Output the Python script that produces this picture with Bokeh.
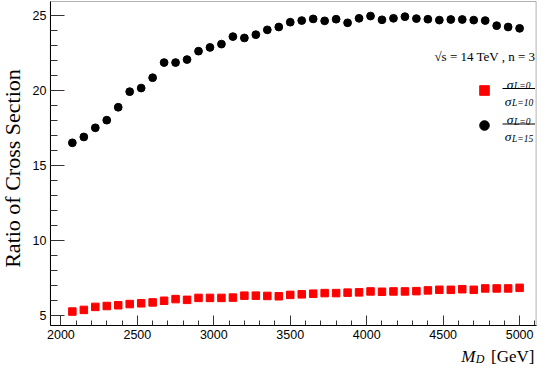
import math
from bokeh.plotting import figure
from bokeh.models import Range1d, SingleIntervalTicker, Label, Legend, LegendItem, BoxAnnotation
from bokeh.core.properties import value
from bokeh.embed import file_html
from bokeh.resources import INLINE

# ---- data ----
md_gev = [2075, 2150, 2225, 2300, 2375, 2450, 2525, 2600, 2675, 2750,
          2825, 2900, 2975, 3050, 3125, 3200, 3275, 3350, 3425, 3500,
          3575, 3650, 3725, 3800, 3875, 3950, 4025, 4100, 4175, 4250,
          4325, 4400, 4475, 4550, 4625, 4700, 4775, 4850, 4925, 5000]

ratio_l10 = [5.23, 5.34, 5.54, 5.60, 5.65, 5.73, 5.78, 5.84, 5.95, 6.06,
             6.01, 6.14, 6.14, 6.14, 6.16, 6.29, 6.29, 6.27, 6.25, 6.34,
             6.38, 6.42, 6.46, 6.46, 6.49, 6.51, 6.57, 6.55, 6.57, 6.57,
             6.59, 6.64, 6.68, 6.68, 6.72, 6.68, 6.77, 6.77, 6.77, 6.81]

ratio_l15 = [16.48, 16.87, 17.48, 17.99, 18.85, 19.89, 20.13, 20.82, 21.83, 21.83,
             22.03, 22.59, 22.84, 23.06, 23.56, 23.47, 23.69, 24.01, 24.20, 24.52,
             24.63, 24.74, 24.61, 24.72, 24.48, 24.78, 24.93, 24.68, 24.78, 24.89,
             24.76, 24.72, 24.66, 24.70, 24.70, 24.66, 24.63, 24.29, 24.20, 24.11]

x_title = ["M", "D", "[GeV]"]
y_title = "Ratio of Cross Section"
info_text = "√s = 14 TeV , n = 3"
legend_num = "L=0"
legend_den = ["L=10", "L=15"]

# axes box (data units)
X_LO, X_HI = 1931, 5108
Y_LO, Y_HI = 4.3, 25.9

SERIF = "Liberation Serif"
SANS = "Liberation Sans"

W, H = 537, 367
XR = (1605, 5117)
YR = (1.5, 25.967)

p = figure(width=W, height=H, output_backend="svg", toolbar_location=None,
           x_range=Range1d(*XR), y_range=Range1d(*YR),
           min_border_left=0, min_border_right=0, min_border_top=0, min_border_bottom=0)
p.xgrid.visible = False
p.ygrid.visible = False
p.outline_line_color = None
p.background_fill_color = "white"
p.border_fill_color = "white"

xa = p.xaxis[0]
xa.ticker = SingleIntervalTicker(interval=500, num_minor_ticks=5)
xa.fixed_location = Y_LO
xa.bounds = (X_LO, X_HI)
xa.major_tick_in = 10
xa.major_tick_out = 0
xa.minor_tick_in = 5
xa.minor_tick_out = 0

ya = p.yaxis[0]
ya.ticker = SingleIntervalTicker(interval=5, num_minor_ticks=5)
ya.fixed_location = X_LO
ya.bounds = (Y_LO, Y_HI)
ya.major_tick_in = 14
ya.major_tick_out = 0
ya.minor_tick_in = 7
ya.minor_tick_out = 0

for ax in (xa, ya):
    ax.axis_line_color = "black"
    ax.major_tick_line_color = "#333333"
    ax.minor_tick_line_color = "#333333"
    ax.major_label_text_font = SANS
    ax.major_label_text_font_size = "12.5px"
    ax.major_label_text_color = "black"
    ax.major_label_standoff = 4

# frame box
p.add_layout(BoxAnnotation(left=X_LO, right=X_HI, bottom=Y_LO, top=Y_HI,
                           fill_alpha=0, line_color="black", line_width=1))

r15 = p.scatter(md_gev, ratio_l15, marker="circle", size=7.8, color="black")
r10 = p.scatter(md_gev, ratio_l10, marker="square", size=7.5, color="red")

legend = Legend(items=[LegendItem(label=value(""), renderers=[r10]),
                       LegendItem(label=value(""), renderers=[r15])],
                location=(472, 230), orientation="vertical", padding=0, margin=0,
                spacing=11, glyph_width=24, glyph_height=24, label_height=24,
                label_width=0, label_standoff=0,
                border_line_alpha=0, background_fill_alpha=0)
p.add_layout(legend)


# helpers: canvas pixel position -> data coordinates (layout only)
def X(cx):
    return XR[0] + cx * (XR[1] - XR[0]) / W


def Y(cy):
    return YR[1] - cy * (YR[1] - YR[0]) / H


def lab(cx, cy, text, size, style="normal", align="left", angle=0.0):
    p.add_layout(Label(x=X(cx), y=Y(cy), text=text, text_font=SERIF, text_font_size=size,
                       text_font_style=style, text_align=align, angle=angle,
                       text_baseline="alphabetic", text_color="black"))


# y title (rotated)
lab(12, 168, y_title, "22px", "normal", "center", angle=math.pi / 2)

# energy / n annotation
lab(535, 56, info_text, "13px", align="right")

# legend fractions
for bar_y, den in zip([88.0, 123.5], legend_den):
    lab(513, bar_y - 4.5, "σ", "13.5px", "italic", "right")
    lab(513.5, bar_y - 2.3, legend_num, "9.5px", "italic", "left")
    p.add_layout(BoxAnnotation(left=X(502), right=X(534.5), top=Y(bar_y - 0.45),
                               bottom=Y(bar_y + 0.45), fill_color="black", fill_alpha=1,
                               line_alpha=0))
    lab(511, bar_y + 12.7, "σ", "13.5px", "italic", "right")
    lab(511.5, bar_y + 14.7, den, "9.5px", "italic", "left")

# x title: M_D [GeV]
lab(534, 355.5, x_title[2], "17px", "normal", "right")
lab(484, 358.5, x_title[1], "12px", "italic", "right")
lab(475, 355.5, x_title[0], "17px", "italic", "right")

open("out.html", "w").write(file_html(p, INLINE))
